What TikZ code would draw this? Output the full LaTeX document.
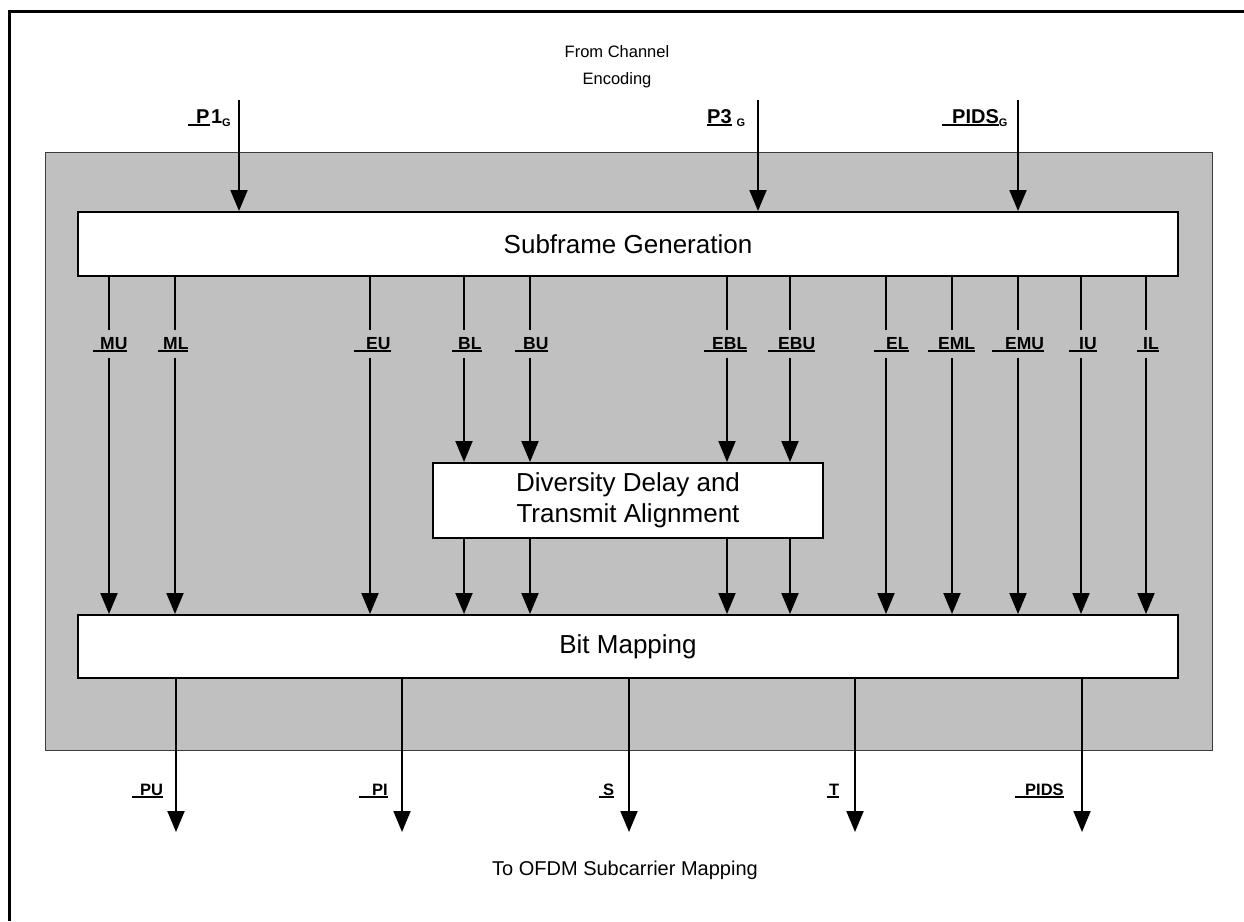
\documentclass[tikz,border=0pt]{standalone}
\usepackage{fontspec}
\setmainfont{Liberation Sans}
\usetikzlibrary{arrows.meta}
\definecolor{panelgray}{RGB}{192,192,192}
\definecolor{paneledge}{RGB}{60,60,60}
\newsavebox\ulbox
\newcommand{\ulab}[2][0pt]{\sbox\ulbox{\hspace*{#1}#2}\rlap{\rule[-2.8pt]{\wd\ulbox}{1.8pt}}\usebox\ulbox}
\newcommand{\subG}{\raisebox{-3.5pt}{\fontsize{11}{11}\selectfont\bfseries G}}
\begin{document}
\begin{tikzpicture}[x=1pt,y=-1pt,
  box/.style={draw=black, line width=2pt, fill=white, inner sep=0pt, align=center,
    font=\fontsize{26}{31}\selectfont},
  arr/.style={line width=2pt, -{Triangle[width=17pt,length=21pt]}},
  mlab/.style={fill=panelgray, inner xsep=0pt, inner ysep=5pt, text height=14pt, text depth=4pt,
    anchor=base west, font=\fontsize{17.5}{17.5}\selectfont\bfseries},
  blab/.style={anchor=base west, inner sep=0pt, font=\fontsize{16.5}{16.5}\selectfont\bfseries},
  tlab/.style={anchor=base west, inner sep=0pt, font=\fontsize{20}{20}\selectfont\bfseries},
  note/.style={align=center, inner sep=0pt}
]
\useasboundingbox (0,0) rectangle (1244,921);
% outer frame (open at right and bottom)
\draw[line width=3pt] (9,921) -- (9,11) -- (1244,11);
% panel
\node[draw=paneledge, line width=1pt, fill=panelgray, anchor=north west, inner sep=0pt,
  minimum width=1167pt, minimum height=598pt] (panel) at (45,152) {};
% boxes
\node[box, minimum width=1100pt, minimum height=64pt] (sub) at (628,244) {Subframe Generation};
\node[box, minimum width=1100pt, minimum height=63pt] (bit) at (628,646.5) {Bit Mapping};
\node[box, minimum width=390pt, minimum height=75pt] (div) at (628,500.5) {Diversity Delay and\\Transmit Alignment};
% notes
\node[note, font=\fontsize{16.5}{27}\selectfont] (from) at (617,67) {From Channel\\Encoding};
\node[note, font=\fontsize{20}{27}\selectfont] (to) at (625,870) {To OFDM Subcarrier Mapping};
% top inputs
\coordinate (tP1) at (239,100);
\coordinate (tP3) at (758,100);
\coordinate (tPIDS) at (1018,100);
\draw[arr] (tP1) -- (sub.north -| tP1);
\draw[arr] (tP3) -- (sub.north -| tP3);
\draw[arr] (tPIDS) -- (sub.north -| tPIDS);
\node[tlab] (lP1) at (188,123) {\ulab[8pt]{P}\hspace{1.5pt}1\subG};
\node[tlab] (lP3) at (707,123) {\ulab{P3}\hspace{5pt}\subG};
\node[tlab] (lPIDS) at (942,123) {\ulab[10pt]{PIDS}\subG};
% middle channel lines
\foreach \n/\x in {MU/109, ML/175, EU/370, EL/886, EML/952, EMU/1018, IU/1081, IL/1146}{
  \coordinate (x\n) at (\x,343);
  \draw[arr] (sub.south -| x\n) -- (bit.north -| x\n);
}
\foreach \n/\x in {BL/464, BU/530, EBL/727, EBU/790}{
  \coordinate (x\n) at (\x,343);
  \draw[arr] (sub.south -| x\n) -- (div.north -| x\n);
  \draw[arr] (div.south -| x\n) -- (bit.north -| x\n);
}
% middle labels
\node[mlab] (lMU) at (93,349) {\ulab[7pt]{MU}};
\node[mlab] (lML) at (158,349) {\ulab[5pt]{ML}};
\node[mlab] (lEU) at (354,349) {\ulab[12pt]{EU}};
\node[mlab] (lBL) at (452,349) {\ulab[6pt]{BL}};
\node[mlab] (lBU) at (515,349) {\ulab[8pt]{BU}};
\node[mlab] (lEBL) at (704,349) {\ulab[8pt]{EBL}};
\node[mlab] (lEBU) at (768,349) {\ulab[10pt]{EBU}};
\node[mlab] (lEL) at (874,349) {\ulab[12pt]{EL}};
\node[mlab] (lEML) at (928,349) {\ulab[10pt]{EML}};
\node[mlab] (lEMU) at (992,349) {\ulab[13pt]{EMU}};
\node[mlab] (lIU) at (1069,349) {\ulab[10pt]{IU}};
\node[mlab] (lIL) at (1137,349) {\ulab[6pt]{IL}};
% bottom outputs
\foreach \n/\x in {PU/176, PI/402, S/629, T/855, PIDS/1082}{
  \coordinate (b\n) at (\x,832);
  \draw[arr] (bit.south -| b\n) -- (b\n);
}
\node[blab] (lPU) at (132,795) {\ulab[8pt]{PU}};
\node[blab] (lPI) at (359,795) {\ulab[13pt]{PI}};
\node[blab] (lS) at (599,795) {\ulab[4pt]{S}};
\node[blab] (lT) at (827,795) {\ulab[2pt]{T}};
\node[blab] (lPIDS2) at (1015,795) {\ulab[10pt]{PIDS}};
\end{tikzpicture}
\end{document}
